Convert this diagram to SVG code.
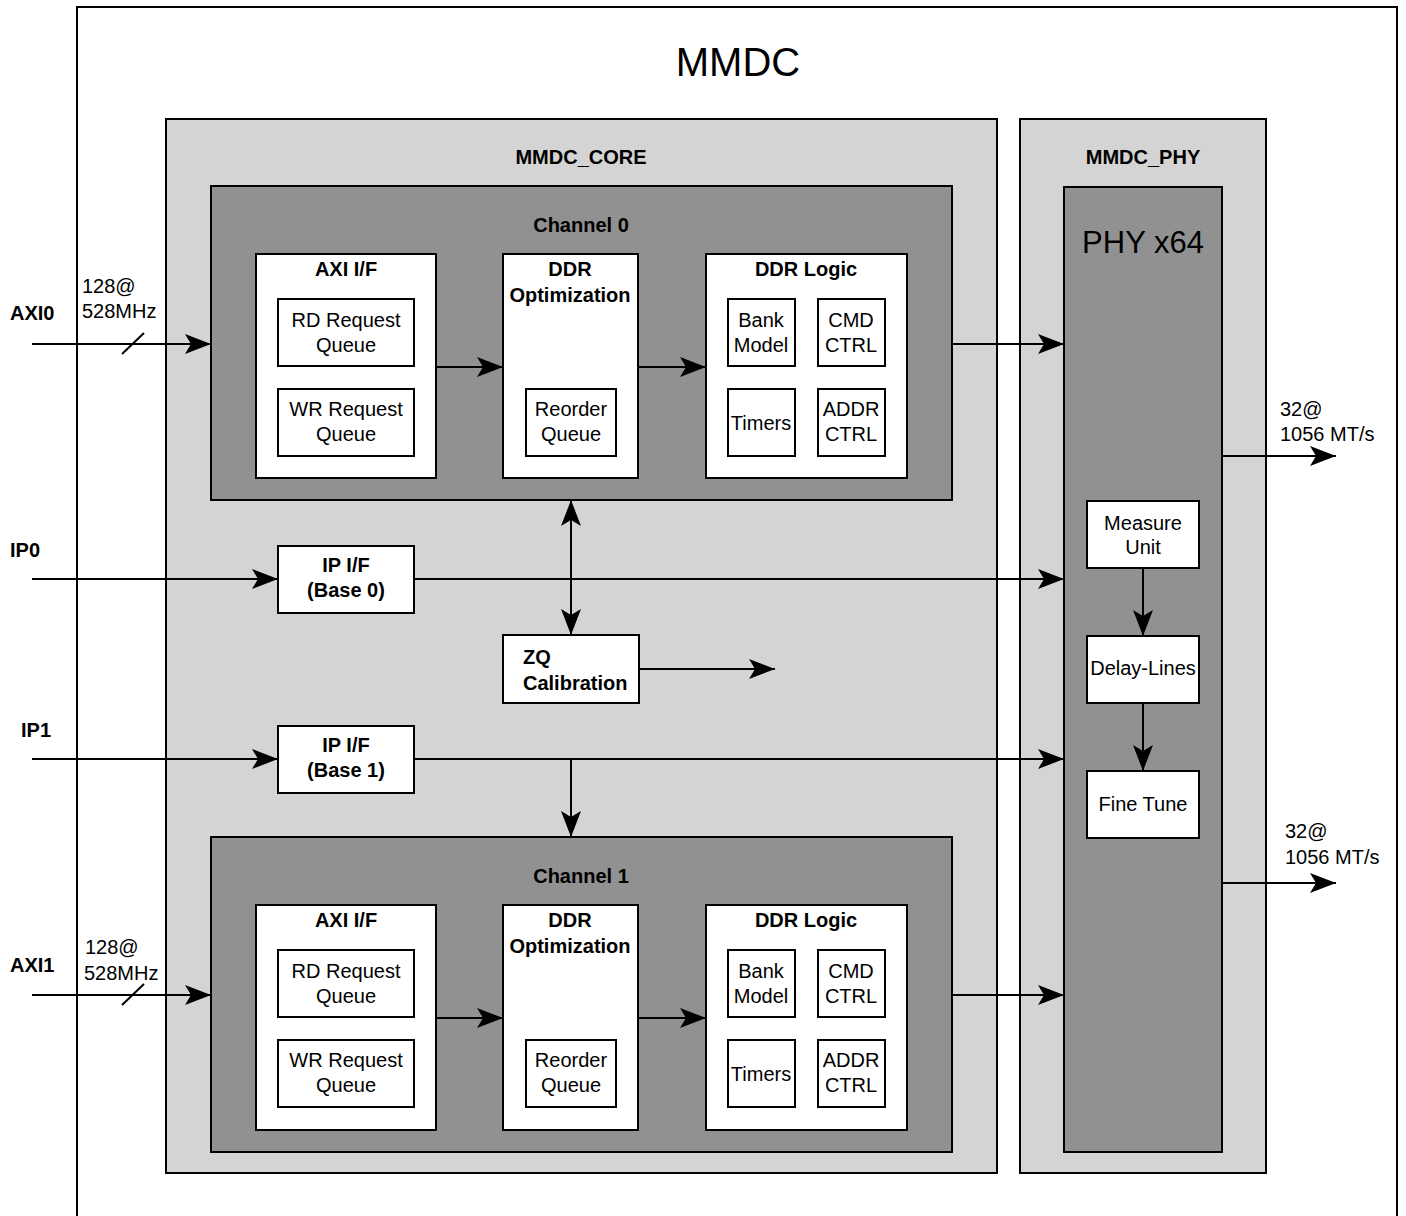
<svg xmlns="http://www.w3.org/2000/svg" width="1406" height="1216" viewBox="0 0 1406 1216">
<style>
text{font-family:"Liberation Sans",Arial,Helvetica,sans-serif;font-size:20px;fill:#000}
.b{font-weight:bold}
.c{text-anchor:middle}
.box{fill:#fff;stroke:#000;stroke-width:2}
.lt{fill:#d4d4d4;stroke:#000;stroke-width:2}
.dk{fill:#919191;stroke:#000;stroke-width:2}
.ln{fill:none;stroke:#000;stroke-width:2}
.ar{marker-end:url(#ah)}
</style>
<defs>
<marker id="ah" markerUnits="userSpaceOnUse" markerWidth="28" markerHeight="22" refX="26" refY="10" orient="auto">
<path d="M0,0 L26,10 L0,20 L6,10 Z" fill="#000"/>
</marker>
<marker id="ahs" markerUnits="userSpaceOnUse" markerWidth="28" markerHeight="22" refX="26" refY="10" orient="auto-start-reverse">
<path d="M0,0 L26,10 L0,20 L6,10 Z" fill="#000"/>
</marker>
</defs>
<rect x="77" y="7" width="1320" height="1230" fill="#fff" stroke="#000" stroke-width="2"/>
<text class="c" x="738" y="76" style="font-size:40px">MMDC</text>

<g id="mmdc_core">
<rect class="lt" x="166" y="119" width="831" height="1054"/>
<text class="b c" x="581" y="164">MMDC_CORE</text>
</g>
<g id="mmdc_phy">
<rect class="lt" x="1020" y="119" width="246" height="1054"/>
<text class="b c" x="1143" y="164">MMDC_PHY</text>
</g>
<g id="phy_x64">
<rect class="dk" x="1064" y="187" width="158" height="965"/>
<text class="c" x="1143" y="253" style="font-size:31px">PHY x64</text>
</g>

<g id="channel0">
<rect class="dk" x="211" y="186" width="741" height="314"/>
<text class="b c" x="581" y="232">Channel 0</text>
</g>
<g id="axi_if0">
<rect class="box" x="256" y="254" width="180" height="224"/>
<text class="b c" x="346" y="276">AXI I/F</text>
</g>
<g id="rd_q0"><rect class="box" x="278" y="299" width="136" height="67"/><text class="c" x="346" y="327">RD Request</text><text class="c" x="346" y="352">Queue</text></g>
<g id="wr_q0"><rect class="box" x="278" y="389" width="136" height="67"/><text class="c" x="346" y="416">WR Request</text><text class="c" x="346" y="441">Queue</text></g>
<g id="ddr_opt0"><rect class="box" x="503" y="254" width="135" height="224"/><text class="b c" x="570" y="276">DDR</text><text class="b c" x="570" y="302">Optimization</text></g>
<g id="reorder0"><rect class="box" x="526" y="389" width="90" height="67"/><text class="c" x="571" y="416">Reorder</text><text class="c" x="571" y="441">Queue</text></g>
<g id="ddr_logic0"><rect class="box" x="706" y="254" width="201" height="224"/><text class="b c" x="806" y="276">DDR Logic</text></g>
<g id="bank0"><rect class="box" x="728" y="299" width="67" height="67"/><text class="c" x="761" y="327">Bank</text><text class="c" x="761" y="352">Model</text></g>
<g id="cmd0"><rect class="box" x="818" y="299" width="67" height="67"/><text class="c" x="851" y="327">CMD</text><text class="c" x="851" y="352">CTRL</text></g>
<g id="timers0"><rect class="box" x="728" y="389" width="67" height="67"/><text class="c" x="761" y="430">Timers</text></g>
<g id="addr0"><rect class="box" x="818" y="389" width="67" height="67"/><text class="c" x="851" y="416">ADDR</text><text class="c" x="851" y="441">CTRL</text></g>

<g id="channel1">
<rect class="dk" x="211" y="837" width="741" height="315"/>
<text class="b c" x="581" y="883">Channel 1</text>
</g>
<g id="axi_if1">
<rect class="box" x="256" y="905" width="180" height="225"/>
<text class="b c" x="346" y="927">AXI I/F</text>
</g>
<g id="rd_q1"><rect class="box" x="278" y="950" width="136" height="67"/><text class="c" x="346" y="978">RD Request</text><text class="c" x="346" y="1003">Queue</text></g>
<g id="wr_q1"><rect class="box" x="278" y="1040" width="136" height="67"/><text class="c" x="346" y="1067">WR Request</text><text class="c" x="346" y="1092">Queue</text></g>
<g id="ddr_opt1"><rect class="box" x="503" y="905" width="135" height="225"/><text class="b c" x="570" y="927">DDR</text><text class="b c" x="570" y="953">Optimization</text></g>
<g id="reorder1"><rect class="box" x="526" y="1040" width="90" height="67"/><text class="c" x="571" y="1067">Reorder</text><text class="c" x="571" y="1092">Queue</text></g>
<g id="ddr_logic1"><rect class="box" x="706" y="905" width="201" height="225"/><text class="b c" x="806" y="927">DDR Logic</text></g>
<g id="bank1"><rect class="box" x="728" y="950" width="67" height="67"/><text class="c" x="761" y="978">Bank</text><text class="c" x="761" y="1003">Model</text></g>
<g id="cmd1"><rect class="box" x="818" y="950" width="67" height="67"/><text class="c" x="851" y="978">CMD</text><text class="c" x="851" y="1003">CTRL</text></g>
<g id="timers1"><rect class="box" x="728" y="1040" width="67" height="67"/><text class="c" x="761" y="1081">Timers</text></g>
<g id="addr1"><rect class="box" x="818" y="1040" width="67" height="67"/><text class="c" x="851" y="1067">ADDR</text><text class="c" x="851" y="1092">CTRL</text></g>

<g id="ip_if0"><rect class="box" x="278" y="546" width="136" height="67"/><text class="b c" x="346" y="572">IP I/F</text><text class="b c" x="346" y="597">(Base 0)</text></g>
<g id="ip_if1"><rect class="box" x="278" y="726" width="136" height="67"/><text class="b c" x="346" y="752">IP I/F</text><text class="b c" x="346" y="777">(Base 1)</text></g>
<g id="zq"><rect class="box" x="503" y="635" width="136" height="68"/><text class="b" x="523" y="664">ZQ</text><text class="b" x="523" y="690">Calibration</text></g>

<g id="measure"><rect class="box" x="1087" y="501" width="112" height="67"/><text class="c" x="1143" y="530">Measure</text><text class="c" x="1143" y="554">Unit</text></g>
<g id="delay"><rect class="box" x="1087" y="636" width="112" height="67"/><text class="c" x="1143" y="675">Delay-Lines</text></g>
<g id="finetune"><rect class="box" x="1087" y="771" width="112" height="67"/><text class="c" x="1143" y="811">Fine Tune</text></g>

<g id="labels">
<text class="b" x="10" y="320">AXI0</text>
<text x="82" y="293">128@</text>
<text x="82" y="318">528MHz</text>
<text class="b" x="10" y="557">IP0</text>
<text class="b" x="21" y="737">IP1</text>
<text class="b" x="10" y="972">AXI1</text>
<text x="85" y="954">128@</text>
<text x="84" y="980">528MHz</text>
<text x="1280" y="416">32@</text>
<text x="1280" y="441">1056 MT/s</text>
<text x="1285" y="838">32@</text>
<text x="1285" y="864">1056 MT/s</text>
</g>

<g id="connectors">
<path class="ln ar" d="M32,344 H211"/>
<path class="ln" d="M122,354 L144,333"/>
<path class="ln ar" d="M436,367 H503"/>
<path class="ln ar" d="M638,367 H706"/>
<path class="ln ar" d="M952,344 H1064"/>
<path class="ln ar" d="M32,995 H211"/>
<path class="ln" d="M122,1005 L144,984"/>
<path class="ln ar" d="M436,1018 H503"/>
<path class="ln ar" d="M638,1018 H706"/>
<path class="ln ar" d="M952,995 H1064"/>
<path class="ln ar" d="M32,579 H278"/>
<path class="ln ar" d="M414,579 H1064"/>
<path class="ln ar" d="M32,759 H278"/>
<path class="ln ar" d="M414,759 H1064"/>
<path class="ln ar" d="M571,759 V837"/>
<path class="ln" d="M571,500 V635" marker-start="url(#ahs)" marker-end="url(#ahs)"/>
<path class="ln ar" d="M639,669 H775"/>
<path class="ln ar" d="M1143,568 V636"/>
<path class="ln ar" d="M1143,703 V771"/>
<path class="ln ar" d="M1222,456 H1336"/>
<path class="ln ar" d="M1222,883 H1336"/>
</g>
</svg>
